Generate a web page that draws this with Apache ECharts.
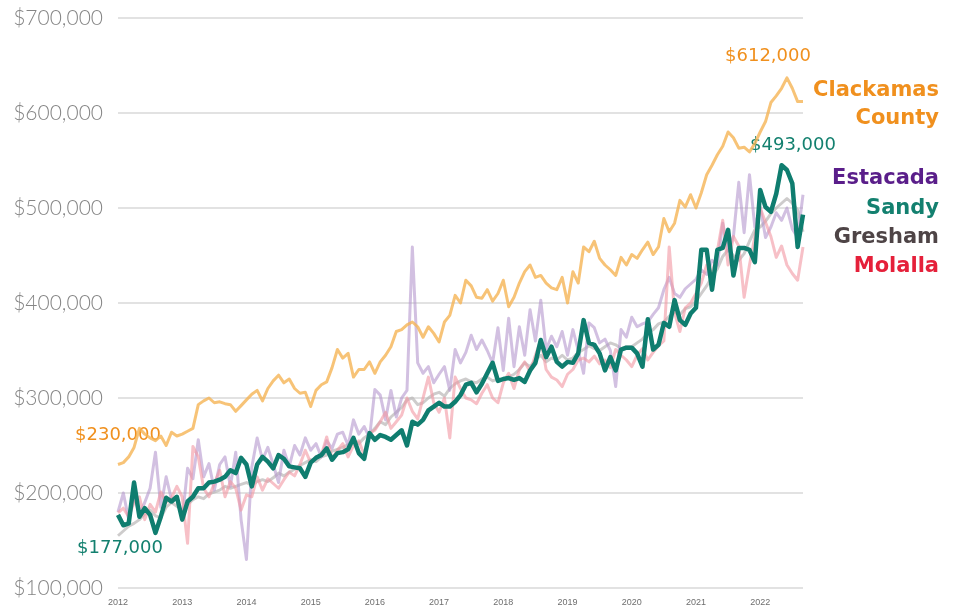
<!DOCTYPE html>
<html>
<head>
<meta charset="utf-8">
<script src="https://cdn.jsdelivr.net/npm/echarts@6/dist/echarts.min.js"></script>
<style>
  html, body { margin: 0; padding: 0; background: #fff; }
  #chart { width: 957px; height: 608px; }
</style>
</head>
<body>
<div id="chart"></div>
<script>
// monthly median prices, in $ thousands, Jan 2012 .. Sep 2022
const years = ['2012','2013','2014','2015','2016','2017','2018','2019','2020','2021','2022'];
const months = [];
years.forEach(function (y) {
  for (let m = 1; m <= 12; m++) months.push(y + '-' + (m < 10 ? '0' + m : m));
});
months.length = 129;

const clackamas = [
  230, 232, 238, 248, 268, 262, 258, 255, 260, 250, 264, 260,
  262, 265, 268, 293, 297, 300, 295, 296, 294, 293, 286, 292,
  298, 304, 308, 297, 310, 318, 324, 316, 320, 310, 305, 306,
  291, 308, 314, 317, 332, 351, 342, 347, 322, 330, 330, 338,
  326, 338, 345, 354, 370, 372, 377, 380, 375, 364, 375, 368,
  359, 380, 387, 408, 400, 424, 418, 406, 405, 414, 402, 410,
  424, 396, 406, 421, 433, 440, 427, 429, 421, 416, 414, 427,
  400, 433, 421, 459, 454, 465, 447, 440, 435, 429, 448, 440,
  451, 447, 456, 464, 451, 459, 489, 475, 484, 508, 501, 514,
  500, 516, 535, 545, 556, 565, 580, 574, 563, 564, 559, 568,
  580, 591, 611, 618, 626, 637, 626, 612, 612
];
const sandy = [
  177, 166, 168, 211, 175, 184, 177, 158, 175, 195, 191, 196,
  172, 191, 196, 205, 205, 211, 212, 214, 217, 224, 221, 237,
  230, 207, 230, 238, 233, 226, 240, 236, 228, 227, 226, 217,
  232, 237, 240, 247, 235, 242, 243, 246, 258, 242, 236, 263,
  256, 261, 259, 256, 261, 266, 250, 275, 272, 277, 287, 291,
  295, 291, 291, 296, 303, 314, 316, 306, 315, 326, 337, 318,
  320, 321, 319, 321, 317, 329, 337, 361, 343, 354, 338, 333,
  338, 337, 347, 382, 358, 356, 347, 329, 343, 329, 351, 353,
  353, 347, 333, 383, 351, 356, 379, 375, 403, 382, 377, 389,
  395, 456, 456, 414, 456, 458, 477, 429, 458, 458, 456, 443,
  519, 501, 496, 515, 545, 540, 526, 459, 493
];
const estacada = [
  180, 200, 172, 196, 178, 190, 205, 243, 185, 217, 193, 196,
  172, 226, 215, 256, 217, 231, 203, 230, 238, 207, 243, 172,
  130, 227, 258, 235, 248, 230, 211, 245, 228, 250, 240, 258,
  245, 252, 238, 255, 247, 262, 264, 250, 277, 262, 270, 258,
  309, 303, 277, 308, 280, 300, 308, 459, 337, 326, 333, 316,
  325, 333, 308, 351, 337, 348, 366, 351, 361, 350, 337, 374,
  329, 384, 333, 375, 345, 393, 360, 403, 351, 365, 354, 370,
  345, 372, 350, 326, 379, 374, 358, 362, 350, 312, 372, 364,
  385, 375, 378, 380, 388, 395, 414, 427, 410, 406, 415, 420,
  425, 435, 430, 445, 440, 484, 455, 470, 527, 474, 535, 480,
  501, 469, 480, 495, 487, 500, 478, 469, 514
];
const gresham = [
  155, 160, 165, 168, 172, 178, 182, 176, 174, 185, 190, 186,
  182, 188, 193, 196, 194, 199, 201, 203, 207, 205, 207, 209,
  211, 208, 212, 214, 212, 216, 221, 218, 222, 225, 229, 232,
  235, 233, 238, 240, 244, 246, 248, 251, 256, 252, 258, 262,
  268, 275, 272, 280, 285, 290, 298, 300, 293, 295, 300, 304,
  306, 302, 310, 315, 318, 320, 317, 316, 320, 322, 318, 320,
  319, 322, 325, 330, 337, 333, 340, 345, 338, 342, 340, 345,
  340, 342, 348, 351, 355, 352, 350, 354, 358, 356, 352, 354,
  354, 358, 362, 368, 372, 378, 380, 386, 390, 388, 394, 396,
  402, 410, 418, 428, 436, 449, 456, 450, 445, 452, 465, 477,
  480, 486, 494, 500, 505, 510, 505, 498, 475
];
const molalla = [
  179, 184, 175, 190, 196, 172, 188, 180, 201, 190, 195, 207,
  196, 147, 249, 238, 205, 196, 210, 224, 196, 212, 205, 182,
  198, 196, 217, 203, 215, 210, 205, 214, 222, 218, 230, 245,
  232, 238, 240, 259, 236, 245, 252, 238, 250, 255, 240, 263,
  266, 275, 285, 268, 275, 282, 300, 286, 278, 300, 322, 295,
  285, 300, 258, 322, 310, 300, 298, 294, 305, 314, 300, 295,
  316, 326, 310, 330, 338, 328, 345, 361, 330, 322, 319, 312,
  325, 330, 340, 342, 338, 344, 336, 340, 332, 351, 345, 340,
  333, 345, 352, 340, 348, 355, 360, 459, 390, 370, 395, 400,
  410, 421, 440, 430, 455, 487, 440, 470, 460, 406, 440, 470,
  500, 485, 470, 448, 460, 440, 431, 424, 459
];
const yTicks = [100, 200, 300, 400, 500, 600, 700];

const LABEL_FONT = 'DejaVu Sans';
function money(v) { return '$' + v + ',000'; }

function valueLabel(values, idx, color, position, distance, offset) {
  return {
    coord: [months[idx], values[idx]],
    label: {
      show: true,
      formatter: money(values[idx]),
      color: color,
      fontFamily: LABEL_FONT,
      fontSize: 18,
      position: position,
      distance: distance,
      offset: offset
    }
  };
}

function line(name, values, color, width, z) {
  return {
    name: name,
    type: 'line',
    data: values,
    showSymbol: false,
    symbol: 'none',
    z: z,
    lineStyle: { color: color, width: width, join: 'round' },
    emphasis: { disabled: true }
  };
}

const chart = echarts.init(document.getElementById('chart'), null, { renderer: 'canvas' });

const series = [
  line('Gresham', gresham, 'rgba(185,183,183,0.7)', 3, 2),
  line('Estacada', estacada, 'rgba(180,150,205,0.6)', 3, 3),
  line('Molalla', molalla, 'rgba(242,150,162,0.6)', 3, 4),
  line('Clackamas County', clackamas, 'rgba(245,180,85,0.8)', 3, 5),
  line('Sandy', sandy, '#0f7d6f', 4.5, 6)
];
series[3].markPoint = {
  symbol: 'circle', symbolSize: 1, itemStyle: { color: 'rgba(0,0,0,0)' },
  data: [
    valueLabel(clackamas, 0, '#f0901e', 'top', 20, [0, 0]),
    valueLabel(clackamas, 128, '#f0901e', 'top', 36, [-35, 0])
  ]
};
series[4].markPoint = {
  symbol: 'circle', symbolSize: 1, itemStyle: { color: 'rgba(0,0,0,0)' },
  data: [
    valueLabel(sandy, 0, '#13806f', 'bottom', 24, [2, 0]),
    valueLabel(sandy, 128, '#13806f', 'top', 60, [-10, 0])
  ]
};

const legendText = [
  { text: 'Clackamas', color: '#f0901e', y: 92 },
  { text: 'County', color: '#f0901e', y: 120 },
  { text: 'Estacada', color: '#5a1e8a', y: 180 },
  { text: 'Sandy', color: '#13806f', y: 210 },
  { text: 'Gresham', color: '#4e4446', y: 239 },
  { text: 'Molalla', color: '#e5203a', y: 268 }
];

chart.setOption({
  backgroundColor: '#ffffff',
  animation: false,
  grid: { left: 118, right: 154, top: 18, bottom: 20, containLabel: false },
  xAxis: {
    type: 'category',
    data: months,
    boundaryGap: false,
    axisLine: { show: false },
    axisTick: { show: false },
    splitLine: { show: false },
    axisLabel: {
      interval: function (i) { return i % 12 === 0; },
      formatter: function (v) { return v.slice(0, 4); },
      color: '#6e6e6e',
      fontFamily: 'Liberation Sans Narrow, Liberation Sans',
      fontSize: 9,
      margin: 10
    }
  },
  yAxis: {
    type: 'value',
    min: yTicks[0],
    max: yTicks[yTicks.length - 1],
    interval: 100,
    axisLine: { show: false },
    axisTick: { show: false },
    splitLine: { lineStyle: { color: '#d9d9d9', width: 1.5 } },
    axisLabel: {
      formatter: money,
      color: '#858585',
      fontFamily: 'Lato',
      fontSize: 21,
      fontWeight: 300,
      margin: 15
    }
  },
  graphic: legendText.map(function (t) {
    return {
      type: 'text',
      right: 18,
      top: t.y - 12,
      style: {
        text: t.text,
        fill: t.color,
        font: 'bold 21px "DejaVu Sans"',
        textAlign: 'right'
      }
    };
  }),
  series: series
});
</script>
</body>
</html>
